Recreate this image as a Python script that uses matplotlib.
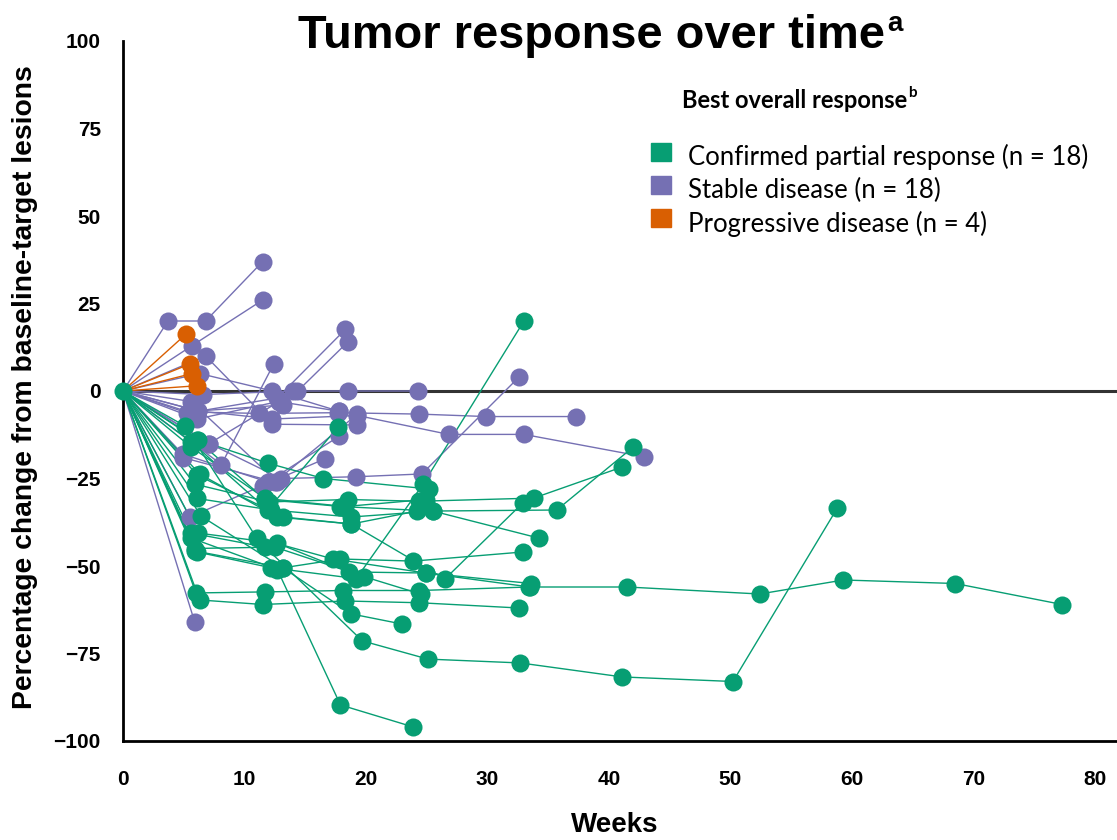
import matplotlib
matplotlib.use('Agg')
import matplotlib.pyplot as plt

# Best overall response groups
groups = ['Confirmed partial response (n = 18)', 'Stable disease (n = 18)',
          'Progressive disease (n = 4)']
colors = ['#079E73', '#7570B3', '#D95F02']

# Confirmed partial response: weeks and % change per patient
cr_weeks = [
    [0, 6, 11.7, 18.1, 24.4, 33.4, 41.5, 52.4, 59.3, 68.5, 77.3],
    [0, 6.3, 11.5, 18.3, 24.4, 32.6],
    [0, 5.6, 12.7, 17.9, 23.9],
    [0, 5.6, 11.7, 19.7, 25.1, 32.7, 41.1, 50.2, 58.8],
    [0, 6.4, 13.2, 18.8, 23],
    [0, 6.1, 12.2, 19.2, 24.7, 33],
    [0, 6.1, 12.2, 18.8, 25.5, 35.7, 42],
    [0, 5.9, 12, 18.5, 24.4, 33.8, 41.1],
    [0, 6.3, 12.7, 18.8, 26.5, 32.9],
    [0, 6.1, 11.7, 17.9, 25.5, 34.2],
    [0, 5.9, 13.2, 17.9, 23.9, 32.9],
    [0, 5.6, 11.9, 17.7],
    [0, 6.2, 11.9, 16.5, 25.2],
    [0, 6.2, 12.7, 18.6, 24.9, 33.5],
    [0, 5.9, 12.5, 19.8, 24.5],
    [0, 5.6, 11.7, 18.3, 24.9],
    [0, 6.1, 13.2, 18.8, 24.2],
    [0, 5.1, 11, 17.3, 24.9, 33.6],
]
cr_pct = [
    [0, -57.7, -57.4, -57, -57, -56, -56, -58, -54, -55, -61],
    [0, -59.7, -61, -60, -60.5, -62],
    [0, -42, -51, -89.7, -96],
    [0, -40.6, -44.6, -71.4, -76.6, -77.7, -81.7, -83, -33.4],
    [0, -35.7, -50.6, -63.7, -66.6],
    [0, -46, -50.5, -53.6, -26.6, 20],
    [0, -30.7, -34, -36, -34.3, -34, -16],
    [0, -26.6, -31.7, -31, -31.5, -30.6, -21.7],
    [0, -23.7, -36, -38, -53.7, -32],
    [0, -14, -31, -33, -34.3, -42],
    [0, -45.7, -50.5, -48, -48.6, -46],
    [0, -14.5, -34, -10.3],
    [0, -14, -20.6, -25, -28],
    [0, -40.6, -43.5, -51.7, -52, -56],
    [0, -45, -44.6, -53, -58],
    [0, -16, -30.7, -33, -31],
    [0, -24, -36, -38, -34.3],
    [0, -10, -42, -48, -52, -55],
]

# Stable disease
sd_weeks = [
    [0, 3.7, 6.8, 11.5],
    [0, 5.7, 11.5],
    [0, 6.8, 12.3, 19.3],
    [0, 8.1, 12.4],
    [0, 5.3, 12.7, 18.3],
    [0, 6.2, 13.2, 18.5],
    [0, 6.6, 14, 18.5, 24.3],
    [0, 6.3, 12.3, 17.8],
    [0, 5.4, 11.2, 17.7, 24.4, 29.9, 37.3],
    [0, 6.2, 12.3, 19.3, 26.8, 33, 42.9],
    [0, 4.9, 11.9, 17.8],
    [0, 7.1, 13, 19.2, 24.6, 32.6],
    [0, 5.9],
    [0, 5.5, 11.5, 16.6],
    [0, 4.9, 12.5, 19.3],
    [0, 7.1, 14.3],
    [0, 5.6, 12.7],
    [0, 6.1, 12.8, 17.8],
]
sd_pct = [
    [0, 20, 20, 37],
    [0, 13, 26],
    [0, 10, -9.5, -9.7],
    [0, -21, 7.7],
    [0, -6.3, -2, 17.6],
    [0, -5.7, -4, 14],
    [0, -1, 0, 0, 0],
    [0, 5, 0, -5.8],
    [0, -6, -6.4, -6.2, -6.6, -7.3, -7.3],
    [0, -5.7, -8, -7, -12.4, -12.4, -18.8],
    [0, -18, -26, -12.9],
    [0, -15, -25, -24.5, -23.7, 4],
    [0, -66],
    [0, -36, -27, -19.4],
    [0, -19, -26, -6.6],
    [0, -15, 0],
    [0, -3, -26],
    [0, -8, -3, -5.8],
]

# Progressive disease
pd_weeks = [[0, 5.2], [0, 5.5], [0, 5.7], [0, 6.1]]
pd_pct = [[0, 16.3], [0, 7.7], [0, 5], [0, 1.5]]

W, H = 1117, 840
fig = plt.figure(figsize=(W / 100, H / 100), dpi=100)
ax = fig.add_axes([123 / W, 1 - 741 / H, (W - 123) / W, 700 / H])

ax.axhline(0, color='#333333', lw=2.2, zorder=1)

series = [(sd_weeks, sd_pct, colors[1]),
          (cr_weeks, cr_pct, colors[0]),
          (pd_weeks, pd_pct, colors[2])]
for weeks, pct, col in series:
    for w, p in zip(weeks, pct):
        ax.plot(w, p, color=col, lw=1.0, zorder=2)
for weeks, pct, col in series:
    for w, p in zip(weeks, pct):
        ax.plot(w[1:], p[1:], 'o', color=col, ms=13, mew=0, zorder=3)
# baseline marker
ax.plot([0], [0], 'o', color=colors[0], ms=13, mew=0, zorder=4, clip_on=False)

ax.set_xlim(0, (W - 123) / 121.5 * 10)
ax.set_ylim(-100, 100)
ax.set_xticks(range(0, 81, 10))
ax.set_yticks(range(-100, 101, 25))
ax.tick_params(length=0)
ax.tick_params(axis='x', pad=21)
ax.tick_params(axis='y', pad=16)
for lab in ax.get_xticklabels() + ax.get_yticklabels():
    lab.set_fontfamily('Liberation Sans')
    lab.set_fontweight('bold')
    lab.set_fontsize(15)
for side in ['top', 'right']:
    ax.spines[side].set_visible(False)
for side in ['left', 'bottom']:
    ax.spines[side].set_linewidth(2)
    ax.spines[side].set_color('black')

fig.text(25 / W, 1 - 387 / H, 'Percentage change from baseline-target lesions',
         rotation=90, ha='center', va='center', fontsize=20.3, fontweight='bold',
         family='Liberation Sans')
fig.text(615 / W, 1 - 825 / H, 'Weeks', ha='center', va='center',
         fontsize=20, fontweight='bold', family='Liberation Sans')

# title with superscript
t = fig.text(298 / W, 1 - 48 / H, 'Tumor response over time', ha='left',
             va='baseline', fontsize=33.8, fontweight='bold', family='Liberation Sans')
fig.canvas.draw()
bb = t.get_window_extent()
fig.text((bb.x1 + 2) / W, 1 - 31 / H, 'a', ha='left', va='baseline',
         fontsize=20, fontweight='bold', family='Liberation Sans')

# legend drawn by hand
lt = fig.text(682 / W, 1 - 108 / H, 'Best overall response', ha='left',
              va='baseline', fontsize=17, fontweight='bold', family='Lato')
fig.canvas.draw()
bb = lt.get_window_extent()
fig.text((bb.x1 + 1) / W, 1 - 97 / H, 'b', ha='left', va='baseline',
         fontsize=11, fontweight='bold', family='Lato')
square_y = [152, 185, 218]
text_y = [157, 190, 224]
for g, c, sy, ty in zip(groups, colors, square_y, text_y):
    fig.patches.append(plt.Rectangle((651 / W, 1 - (sy + 9) / H), 20 / W, 18 / H,
                                     transform=fig.transFigure, color=c,
                                     figure=fig))
    fig.text(688 / W, 1 - ty / H, g, ha='left', va='center', fontsize=18.5,
             family='Lato')

fig.savefig('out.png', dpi=100)
